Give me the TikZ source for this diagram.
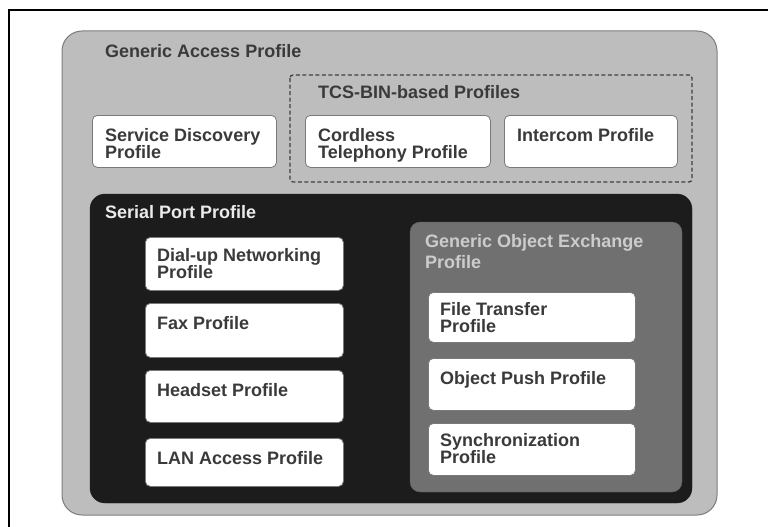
\documentclass[tikz,border=0pt]{standalone}
\usepackage{fontspec}
\setmainfont{Liberation Sans}
\definecolor{gapGray}{HTML}{BDBDBD}
\definecolor{gapEdge}{HTML}{7C7C7C}
\definecolor{sppBlack}{HTML}{1C1C1C}
\definecolor{goepGray}{HTML}{707070}
\definecolor{inkGray}{HTML}{3A3A3A}
\definecolor{boxEdge}{HTML}{7A7A7A}
\begin{document}
\begin{tikzpicture}[x=1pt,y=-1pt,
        profile/.style={draw=boxEdge, fill=white, rounded corners=5pt, line width=0.8pt,
            anchor=north west, inner sep=0pt},
        caption/.style={anchor=north west, inner sep=0pt, align=left, text=inkGray,
            font=\fontsize{18}{17}\selectfont\bfseries},
        title/.style={anchor=base west, inner sep=0pt, font=\fontsize{18}{17}\selectfont\bfseries, align=left}]
    \useasboundingbox (0,0) rectangle (768,527);
    % page frame
    \draw[line width=1.2pt] (9,527) -- (9,10) -- (768,10);

    % containers
    \draw[fill=gapGray, draw=gapEdge, line width=1pt, rounded corners=20pt] (62,31) rectangle (717,515);
    \draw[draw=black!75, dash pattern=on 4pt off 2.5pt, line width=1.3pt, rounded corners=3pt] (290,75) rectangle (692,182);
    \draw[fill=sppBlack, draw=sppBlack, rounded corners=15pt] (90,194) rectangle (692,503);
    \draw[fill=goepGray, draw=goepGray!80!black, rounded corners=10pt] (410,222) rectangle (682,492);

    % titles
    \node[title, text=inkGray] (gap) at (105,58) {Generic Access Profile};
    \node[title, text=inkGray] (tcs) at (318,98) {TCS-BIN-based Profiles};
    \node[title, text=white!92!black] (spp) at (105,218) {Serial Port Profile};
    \node[title, anchor=north west, text=white!80!black, font=\fontsize{18}{21}\selectfont\bfseries]
        (goep) at (425,234) {Generic Object Exchange\\Profile};

    % profiles
    \node[profile, minimum width=184pt, minimum height=52pt] (sdp) at (92,115) {};
    \node[profile, minimum width=185pt, minimum height=52pt] (ctp) at (305,115) {};
    \node[profile, minimum width=173pt, minimum height=52pt] (icp) at (504,115) {};

    \node[profile, minimum width=198pt, minimum height=53pt] (dun) at (145,237) {};
    \node[profile, minimum width=198pt, minimum height=54pt] (fax) at (145,303) {};
    \node[profile, minimum width=198pt, minimum height=52pt] (hsp) at (145,370) {};
    \node[profile, minimum width=198pt, minimum height=48pt] (lap) at (145,438) {};

    \node[profile, minimum width=207pt, minimum height=50pt] (ftp) at (428,292) {};
    \node[profile, minimum width=207pt, minimum height=52pt] (opp) at (428,358) {};
    \node[profile, minimum width=207pt, minimum height=52pt] (sync) at (428,423) {};

    % profile names
    \node[caption] (sdpName) at ([xshift=13pt,yshift=-13pt]sdp.north west) {Service Discovery\\Profile};
    \node[caption] (ctpName) at ([xshift=13pt,yshift=-13pt]ctp.north west) {Cordless\\Telephony Profile};
    \node[caption] (icpName) at ([xshift=13pt,yshift=-13pt]icp.north west) {Intercom Profile};
    \node[caption] (dunName) at ([xshift=12pt,yshift=-11pt]dun.north west) {Dial-up Networking\\Profile};
    \node[caption] (faxName) at ([xshift=12pt,yshift=-13pt]fax.north west) {Fax Profile};
    \node[caption] (hspName) at ([xshift=12pt,yshift=-13pt]hsp.north west) {Headset Profile};
    \node[caption] (lapName) at ([xshift=12pt,yshift=-13pt]lap.north west) {LAN Access Profile};
    \node[caption] (ftpName) at ([xshift=12pt,yshift=-10pt]ftp.north west) {File Transfer\\Profile};
    \node[caption] (oppName) at ([xshift=12pt,yshift=-13pt]opp.north west) {Object Push Profile};
    \node[caption] (syncName) at ([xshift=12pt,yshift=-10pt]sync.north west) {Synchronization\\Profile};
\end{tikzpicture}
\end{document}
